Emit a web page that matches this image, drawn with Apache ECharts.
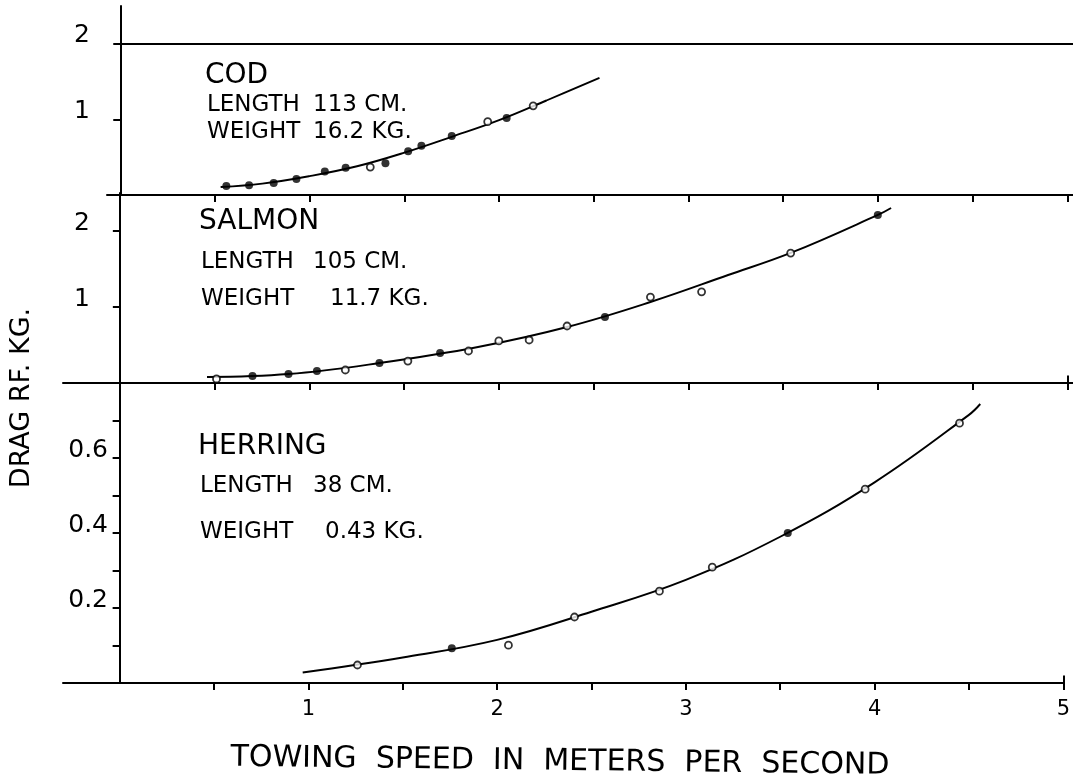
<!DOCTYPE html>
<html>
<head>
<meta charset="utf-8">
<title>Drag of fish vs towing speed</title>
<script src="https://cdn.jsdelivr.net/npm/echarts@6/dist/echarts.min.js"></script>
<style>
  html, body { margin: 0; padding: 0; background: #fff; }
  #chart { width: 1073px; height: 782px; }
</style>
</head>
<body>
<div id="chart"></div>
<script>
// ---- measurements: [towing speed m/s, drag kg] ----
const codFilled = [[0.56,0.12],[0.68,0.13],[0.81,0.16],[0.93,0.21],[1.08,0.31],[1.19,0.36],[1.40,0.42],[1.52,0.58],[1.59,0.65],[1.75,0.78],[2.04,1.02]];
const codOpen = [[1.32,0.37],[1.94,0.97],[2.18,1.18]];
// fitted curve
const codCurve = [[0.53,0.105],[0.75,0.15],[1.0,0.25],[1.25,0.38],[1.5,0.56],[1.75,0.77],[2.0,0.99],[2.25,1.25],[2.53,1.55]];

const salmonFilled = [[0.70,0.092],[0.89,0.118],[1.04,0.158],[1.37,0.263],[1.69,0.395],[2.56,0.868],[4.00,2.21]];
const salmonOpen = [[0.51,0.053],[1.19,0.171],[1.52,0.289],[1.84,0.421],[2.00,0.553],[2.16,0.566],[2.36,0.75],[2.80,1.13],[3.07,1.20],[3.54,1.71]];
const salmonCurve = [[0.46,0.079],[0.89,0.118],[1.37,0.263],[1.89,0.474],[2.36,0.737],[2.80,1.066],[3.21,1.421],[3.54,1.711],[4.00,2.211],[4.07,2.303]];

const herringFilled = [[1.76,0.093],[3.54,0.40]];
const herringOpen = [[1.26,0.048],[2.06,0.101],[2.41,0.176],[2.86,0.245],[3.14,0.309],[3.95,0.517],[4.45,0.693]];
const herringCurve = [[0.97,0.028],[1.5,0.068],[2.0,0.115],[2.5,0.19],[3.0,0.275],[3.5,0.39],[4.0,0.535],[4.5,0.715],[4.56,0.744]];

// ---- axis ticks and labels ----
const xTicks = [0.5,1,1.5,2,2.5,3,3.5,4,4.5,5];
const xTickLabels = [1,2,3,4,5];
const xEnd = 5;
const codYTicks = [1,2];
const salmonYTicks = [1,2];
const herringYTicks = [0.1,0.2,0.3,0.4,0.5,0.6,0.7];
const herringYLabels = [0.2,0.4,0.6];
const codReferenceLevel = 2;

// ---- panel captions ----
const codText = ['COD', 'LENGTH', '113 CM.', 'WEIGHT', '16.2 KG.'];
const salmonText = ['SALMON', 'LENGTH', '105 CM.', 'WEIGHT', '11.7 KG.'];
const herringText = ['HERRING', 'LENGTH', '38 CM.', 'WEIGHT', '0.43 KG.'];
const xTitle = 'TOWING  SPEED  IN  METERS  PER  SECOND';
const yTitle = 'DRAG RF. KG.';

const FONT = '"DejaVu Sans", "Liberation Sans", sans-serif';
const INK = '#000';

const axisLine = { show: true, onZero: true, lineStyle: { color: INK, width: 2 } };

function xAxisFor(idx, min, max, withLabels) {
  return {
    type: 'value', gridIndex: idx, min: min, max: max,
    axisLine: axisLine,
    axisTick: { show: true, length: 7, customValues: xTicks, lineStyle: { color: INK, width: 2 } },
    axisLabel: withLabels
      ? { show: true, customValues: xTickLabels, color: INK, fontFamily: FONT, fontSize: 21, margin: 16 }
      : { show: false },
    splitLine: { show: false }
  };
}

// labels are laid out from the grid's left edge, so margin is measured from there
function yAxisFor(idx, max, ticks, labels, margin) {
  return {
    type: 'value', gridIndex: idx, min: 0, max: max,
    axisLine: axisLine,
    axisTick: { show: true, length: 7, customValues: ticks, lineStyle: { color: INK, width: 2 } },
    axisLabel: {
      show: true, customValues: labels, color: INK, fontFamily: FONT, fontSize: 25,
      align: 'right', margin: margin, verticalAlign: 'bottom', lineHeight: 16
    },
    splitLine: { show: false }
  };
}

// short vertical bar closing an axis at its right end (upper half; the tick gives the lower half)
function endBar(height) {
  return {
    silent: true, symbol: 'none', label: { show: false },
    lineStyle: { color: INK, width: 2, type: 'solid' },
    data: [[{ coord: [xEnd, 0] }, { coord: [xEnd, height] }]]
  };
}

function curveSeries(idx, data, extra) {
  return Object.assign({
    type: 'line', xAxisIndex: idx, yAxisIndex: idx, data: data,
    smooth: 0.4, showSymbol: false, symbol: 'none', clip: false,
    lineStyle: { color: INK, width: 1.9 }, silent: true, z: 2
  }, extra || {});
}
function filledSeries(idx, data) {
  return {
    type: 'scatter', xAxisIndex: idx, yAxisIndex: idx, data: data,
    symbol: 'circle', symbolSize: 8, itemStyle: { color: INK }, z: 4
  };
}
function openSeries(idx, data) {
  return {
    type: 'scatter', xAxisIndex: idx, yAxisIndex: idx, data: data,
    symbol: 'circle', symbolSize: 7,
    itemStyle: { color: '#fff', borderColor: INK, borderWidth: 1.8 }, z: 4
  };
}

function text(x, y, str, size, align, extra) {
  return Object.assign({
    type: 'text', x: x, y: y,
    style: {
      text: str, font: size + 'px ' + FONT, fill: INK,
      align: align, textAlign: align, verticalAlign: 'middle', textVerticalAlign: 'middle'
    }
  }, extra || {});
}

function panelText(t, x0, valueX1, valueX2, yHead, y1, y2) {
  return [
    text(x0, yHead, t[0], 28, 'left'),
    text(x0 + 2, y1, t[1], 23, 'left'),
    text(valueX1, y1, t[2], 23, 'left'),
    text(x0 + 2, y2, t[3], 23, 'left'),
    text(valueX2, y2, t[4], 23, 'left')
  ];
}

const chart = echarts.init(document.getElementById('chart'), null, { renderer: 'canvas' });

chart.setOption({
  backgroundColor: '#fff',
  animation: false,
  grid: [
    { left: 107, right: 0, top: 6, height: 189 },
    { left: 63, right: 0, top: 193, height: 190 },
    { left: 63, right: 6, top: 383, height: 300 }
  ],
  xAxis: [
    xAxisFor(0, -0.07, 5.03, false),
    xAxisFor(1, -0.3, 5.03, false),
    xAxisFor(2, -0.3, 5, true)
  ],
  yAxis: [
    yAxisFor(0, 2.5, codYTicks, codYTicks, 17),
    yAxisFor(1, 2.5, salmonYTicks, salmonYTicks, -27),
    yAxisFor(2, 0.8, herringYTicks, herringYLabels, -45)
  ],
  series: [
    curveSeries(0, codCurve, {
      markLine: {
        silent: true, symbol: 'none', label: { show: false },
        lineStyle: { color: INK, width: 2, type: 'solid' },
        data: [[{ coord: [0, codReferenceLevel] }, { coord: [5.03, codReferenceLevel] }]]
      }
    }),
    filledSeries(0, codFilled),
    openSeries(0, codOpen),
    curveSeries(1, salmonCurve, { markLine: endBar(0.1) }),
    filledSeries(1, salmonFilled),
    openSeries(1, salmonOpen),
    curveSeries(2, herringCurve, { markLine: endBar(0.02) }),
    filledSeries(2, herringFilled),
    openSeries(2, herringOpen)
  ],
  graphic: [].concat(
    panelText(codText, 205, 313, 313, 76, 105, 132),
    panelText(salmonText, 199, 313, 330, 222, 262, 299),
    panelText(herringText, 198, 313, 325, 447, 486, 532),
    [
      text(560, 762, xTitle, 30, 'center', { rotation: -0.012 }),
      {
        type: 'text', x: 22, y: 398, rotation: Math.PI / 2,
        style: {
          text: yTitle, font: '27px ' + FONT, fill: INK,
          align: 'center', textAlign: 'center', verticalAlign: 'middle', textVerticalAlign: 'middle'
        }
      }
    ]
  )
});
</script>
</body>
</html>
